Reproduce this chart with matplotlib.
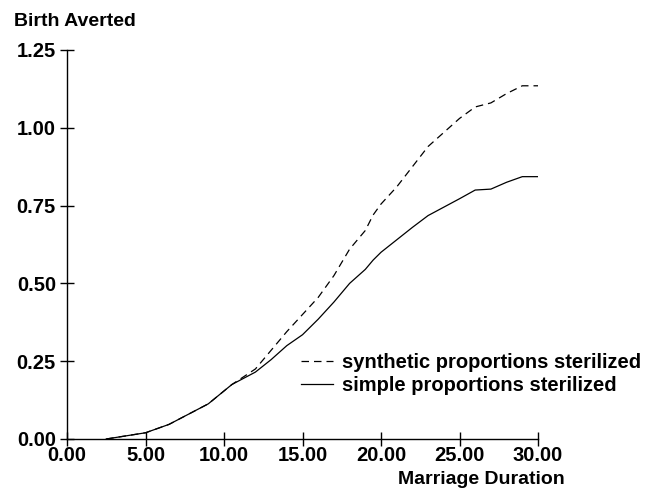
import matplotlib
matplotlib.use("Agg")
import matplotlib.pyplot as plt

# marriage duration (years)
duration = [2.5, 5, 6.5, 9, 10.5, 12, 13, 14, 15, 16, 17, 18, 19, 19.5,
            20, 21, 22, 23, 24, 25, 26, 27, 28, 29, 30]

# births averted
synthetic = [0.0, 0.02, 0.047, 0.113, 0.175, 0.225, 0.285, 0.345, 0.40, 0.455,
             0.525, 0.61, 0.67, 0.72, 0.755, 0.81, 0.875, 0.94, 0.985, 1.03,
             1.067, 1.08, 1.11, 1.135, 1.135]
simple = [0.0, 0.02, 0.047, 0.113, 0.175, 0.215, 0.255, 0.30, 0.335, 0.385,
          0.44, 0.50, 0.545, 0.575, 0.60, 0.64, 0.68, 0.718, 0.745, 0.772,
          0.80, 0.803, 0.825, 0.843, 0.843]

xticks = [0, 5, 10, 15, 20, 25, 30]
yticks = [0, 0.25, 0.5, 0.75, 1.0, 1.25]

plt.rcParams['font.family'] = ['Liberation Sans', 'DejaVu Sans']
plt.rcParams['font.weight'] = 'bold'

fig = plt.figure(figsize=(6.54, 4.91), dpi=100)
ax = fig.add_axes([67 / 654, 1 - 439 / 491, (538 - 67) / 654, (439 - 50) / 491])

ax.plot(duration, synthetic, color='black', lw=0.9, dashes=(6, 4),
        label='synthetic proportions sterilized')
ax.plot(duration, simple, color='black', lw=0.9,
        label='simple proportions sterilized')

ax.set_xlim(0, 30)
ax.set_ylim(0, 1.25)
ax.set_xticks(xticks)
ax.set_xticklabels([f'{t:.2f}' for t in xticks])
ax.set_yticks(yticks)
ax.set_yticklabels([f'{t:.2f}' for t in yticks])

for side in ['top', 'right']:
    ax.spines[side].set_visible(False)
for side in ['left', 'bottom']:
    ax.spines[side].set_linewidth(1.0)
ax.spines['left'].set_clip_on(False)
ax.spines['bottom'].set_clip_on(False)

ax.tick_params(direction='inout', length=10, width=1.0, labelsize=14.5)
ax.tick_params(axis='x', pad=0)
ax.tick_params(axis='y', pad=3)

fig.text(14 / 654, 1 - 22 / 491, 'Birth Averted', fontsize=14,
         fontweight='bold', ha='left', va='center')
fig.text(565 / 654, 1 - 479 / 491, 'Marriage Duration', fontsize=14,
         fontweight='bold', ha='right', va='center')

ax.legend(loc='upper left', bbox_to_anchor=(301 / 654, 1 - 353 / 491),
          bbox_transform=fig.transFigure, frameon=False, fontsize=14.5,
          handlelength=1.6, handletextpad=0.45, labelspacing=0.2,
          borderpad=0, borderaxespad=0)

fig.savefig('out.png', dpi=100)
